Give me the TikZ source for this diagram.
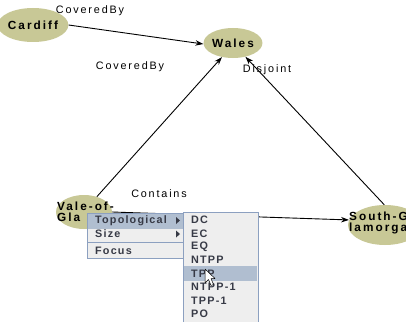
\documentclass[tikz,border=0pt]{standalone}
\usepackage{fontspec}
\setmainfont{Liberation Sans}
\newfontfamily\placefont[LetterSpace=17]{Liberation Sans}
\newfontfamily\labelfont[LetterSpace=17]{Liberation Sans}
\newfontfamily\menufont[LetterSpace=11]{Liberation Sans}
\usepackage{xcolor}
\usetikzlibrary{shapes.geometric,arrows.meta}

\definecolor{placefill}{RGB}{200,200,150}
\definecolor{menubg}{RGB}{238,238,238}
\definecolor{menuhi}{RGB}{176,190,208}
\definecolor{menuborder}{RGB}{140,160,192}
\definecolor{menutext}{RGB}{55,58,70}

\begin{document}
\begin{tikzpicture}[x=1pt, y=-1pt,
  place/.style={ellipse, fill=placefill, inner sep=0pt,
    font=\placefont\fontsize{11.8}{11}\selectfont\bfseries},
  placetext/.style={inner sep=0pt, align=left, anchor=west,
    font=\placefont\fontsize{11.8}{11.5}\selectfont\bfseries},
  rel/.style={draw, line width=0.9pt, -{Stealth[length=8pt,width=5.5pt]}},
  rellabel/.style={inner sep=0pt, font=\labelfont\fontsize{10.8}{11}\selectfont},
  menubox/.style={draw=menuborder, fill=menubg, line width=0.8pt,
    anchor=north west, inner sep=0pt},
  menuhilite/.style={fill=menuhi, anchor=north west, inner sep=0pt},
  menuitem/.style={inner sep=0pt, anchor=west, text=menutext,
    font=\menufont\fontsize{10.8}{11}\selectfont\bfseries}]
  \fill[white] (0,0) rectangle (406,321);
  \useasboundingbox (0,0) rectangle (406,321);

  % places
  \node[place, minimum width=58pt, minimum height=34pt] (cardiff) at (33,25)  {Cardiff};
  \node[place, minimum width=50pt, minimum height=30pt] (wales)   at (233,43) {Wales};
  \node[place, minimum width=56pt, minimum height=34pt] (vale)    at (84,212) {};
  \node[place, minimum width=74pt, minimum height=40pt] (south)   at (385,225) {};
  \node[placetext] (vale text)  at (57,212)  {Vale-of-\\Gla};
  \node[placetext] (south text) at (349,223) {South-G\\lamorgan};

  % relations
  \draw[rel] (cardiff.east) -- (wales.182);
  \draw[rel] (vale.50)      -- (wales.232);
  \draw[rel] (south.92)     -- (wales.312);
  \draw[rel] (vale.east)    -- (south.172);

  \node[rellabel] (lab covered 1) at (90,11)  {CoveredBy};
  \node[rellabel] (lab covered 2) at (130,67) {CoveredBy};
  \node[rellabel] (lab disjoint)  at (267,70) {Disjoint};
  \node[rellabel] (lab contains)  at (159,194) {Contains};

  % popup menu
  \node[menubox, minimum width=98pt, minimum height=45pt] (main menu) at (87,213) {};
  \node[menuhilite, minimum width=96pt, minimum height=15pt] (topo hilite) at (88,213.5) {};
  \node[menuitem] (topological) at (95,220.5) {Topological};
  \node[menuitem] (size)        at (95,234)   {Size};
  \node[menuitem] (focus)       at (95,250.5) {Focus};
  \fill[menutext] (176,217) -- (180,220.5) -- (176,224) -- cycle;
  \fill[menutext] (176,230.5) -- (180,234) -- (176,237.5) -- cycle;
  \draw[menuborder, line width=0.6pt] (88,242) -- (184,242);

  % sub menu
  \node[menubox, minimum width=75pt, minimum height=125pt] (sub menu) at (183,212) {};
  \node[menuhilite, minimum width=73pt, minimum height=15pt] (tpp hilite) at (184,266) {};
  \node[menuitem] (dc)     at (191,220)   {DC};
  \node[menuitem] (ec)     at (191,233.5) {EC};
  \node[menuitem] (eq)     at (191,247)   {EQ};
  \node[menuitem] (ntpp)   at (191,260)   {NTPP};
  \node[menuitem] (tpp)    at (191,273.5) {TPP};
  \node[menuitem] (ntppi)  at (191,287)   {NTPP-1};
  \node[menuitem] (tppi)   at (191,300.5) {TPP-1};
  \node[menuitem] (po)     at (191,314)   {PO};

  % mouse pointer
  \filldraw[fill=white, draw=black, line width=0.5pt, line join=round]
    (205,269) -- (205,283) -- (208.5,279.5) -- (211,285.5) -- (213.5,284.5)
    -- (211,278.5) -- (215,278.5) -- cycle;
\end{tikzpicture}
\end{document}
